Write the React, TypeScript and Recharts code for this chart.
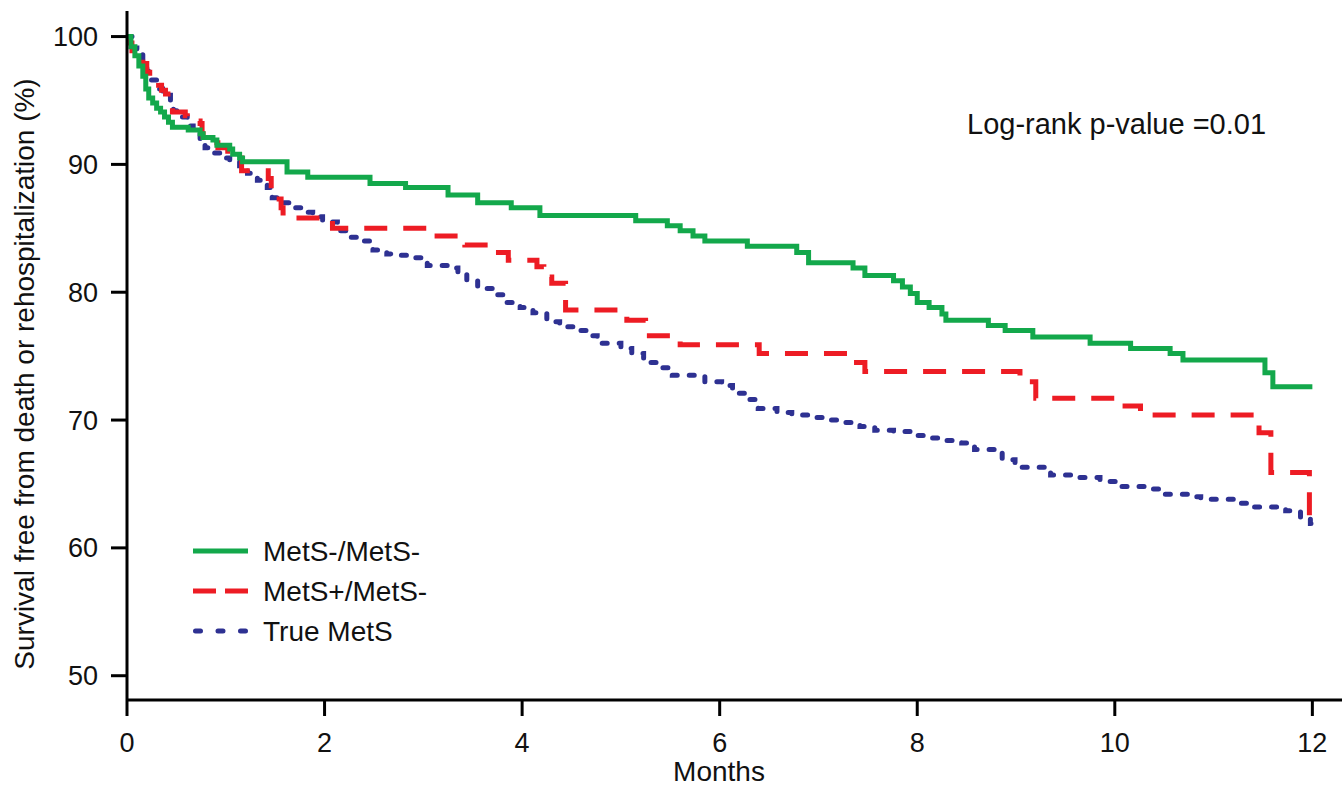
import React from 'react';
import { LineChart, Line, XAxis, YAxis, Legend } from 'recharts';

const FONT = '"Liberation Sans", Arial, Helvetica, sans-serif';

const monthTicks = [0, 2, 4, 6, 8, 10, 12];
const survTicks = [50, 60, 70, 80, 90, 100];

// MetS-/MetS- (step starts: month, survival %)
const negTime = [0, 0.04, 0.08, 0.12, 0.16, 0.19, 0.22, 0.26, 0.3, 0.34, 0.38, 0.42, 0.46, 0.62, 0.74, 0.77, 0.87, 0.91, 1.04, 1.07, 1.14, 1.17, 1.62, 1.83, 2.46, 2.82, 3.25, 3.55, 3.89, 4.18, 5.15, 5.47, 5.6, 5.73, 5.85, 6.28, 6.78, 6.9, 7.35, 7.47, 7.76, 7.85, 7.93, 8.0, 8.12, 8.25, 8.29, 8.72, 8.89, 9.17, 9.75, 10.16, 10.56, 10.69, 11.52, 11.6, 12];
const negSurv = [100, 99.2, 98.5, 97.7, 96.9, 95.9, 95.2, 94.8, 94.4, 94.1, 93.7, 93.3, 92.9, 92.7, 92.4, 92.1, 91.9, 91.5, 91.2, 90.8, 90.5, 90.2, 89.4, 89.0, 88.5, 88.2, 87.6, 87.0, 86.6, 86.0, 85.6, 85.2, 84.8, 84.4, 84.0, 83.6, 83.1, 82.3, 81.9, 81.3, 80.9, 80.4, 79.9, 79.2, 78.8, 78.3, 77.8, 77.4, 77.0, 76.5, 76.0, 75.6, 75.2, 74.7, 73.7, 72.6, 72.6];

// MetS+/MetS-
const posTime = [0, 0.01, 0.05, 0.13, 0.16, 0.2, 0.23, 0.32, 0.35, 0.39, 0.46, 0.59, 0.61, 0.74, 0.76, 0.77, 0.91, 0.92, 1.02, 1.16, 1.43, 1.46, 1.48, 1.56, 1.58, 1.62, 2.08, 3.1, 3.42, 3.73, 3.86, 4.15, 4.22, 4.3, 4.44, 5.06, 5.25, 5.6, 6.4, 7.3, 7.47, 9.04, 9.2, 10.0, 10.26, 11.46, 11.58, 11.97, 12];
const posSurv = [100, 99.5, 98.9, 98.4, 97.9, 97.2, 96.6, 96.2, 95.8, 95.5, 94.1, 93.8, 93.4, 93.2, 92.4, 91.9, 91.7, 91.3, 90.5, 89.5, 88.9, 88.0, 87.3, 86.6, 86.2, 85.8, 85.0, 84.4, 83.7, 83.1, 82.5, 82.0, 81.2, 80.7, 78.6, 77.8, 76.6, 75.9, 75.2, 74.5, 73.8, 73.0, 71.7, 71.1, 70.4, 69.0, 65.9, 62.0, 62.0];

// True MetS
const trueTime = [0, 0.06, 0.1, 0.16, 0.2, 0.23, 0.3, 0.36, 0.44, 0.47, 0.54, 0.61, 0.67, 0.74, 0.79, 0.87, 0.94, 1.04, 1.14, 1.22, 1.32, 1.42, 1.47, 1.58, 1.68, 1.78, 1.88, 1.98, 2.13, 2.26, 2.39, 2.49, 2.63, 2.76, 2.9, 3.04, 3.32, 3.35, 3.44, 3.55, 3.7, 3.83, 3.98, 4.11, 4.25, 4.38, 4.54, 4.69, 4.76, 5.0, 5.11, 5.23, 5.38, 5.52, 5.85, 6.02, 6.13, 6.28, 6.39, 6.58, 6.73, 6.9, 7.07, 7.25, 7.42, 7.57, 7.76, 7.93, 8.1, 8.28, 8.45, 8.58, 8.84, 8.86, 8.99, 9.3, 9.35, 9.6, 9.85, 10.06, 10.36, 10.51, 10.76, 10.87, 11.27, 11.37, 11.73, 11.88, 11.98, 12];
const trueSurv = [100, 99.1, 98.9, 98.0, 97.3, 96.6, 95.9, 95.4, 95.0, 94.2, 93.7, 93.0, 92.5, 92.0, 91.3, 90.9, 90.5, 90.2, 89.9, 89.3, 88.75, 88.2, 87.4, 87.0, 86.6, 86.25, 85.9, 85.5, 84.8, 84.3, 84.0, 83.3, 83.0, 82.9, 82.7, 82.1, 81.9, 81.6, 80.9, 80.3, 79.8, 79.2, 78.8, 78.4, 77.7, 77.3, 77.0, 76.6, 76.0, 75.6, 75.2, 74.5, 74.1, 73.5, 73.0, 72.7, 72.1, 71.6, 70.9, 70.6, 70.4, 70.2, 70.0, 69.8, 69.5, 69.2, 69.1, 68.8, 68.6, 68.4, 68.2, 67.7, 67.4, 66.9, 66.3, 66.1, 65.7, 65.5, 65.2, 64.8, 64.6, 64.2, 64.0, 63.8, 63.5, 63.2, 62.9, 62.3, 61.9, 61.9];

const toSteps = (t: number[], s: number[]) => t.map((m, i) => ({ month: m, surv: s[i] }));

const series = [
  { key: 'true', name: 'True MetS', color: '#2e3192', dash: '5 12', legendDash: '5 17.5', cap: 'round', data: toSteps(trueTime, trueSurv) },
  { key: 'pos', name: 'MetS+/MetS-', color: '#ed1c24', dash: '23 16', legendDash: '23 9', cap: 'butt', data: toSteps(posTime, posSurv) },
  { key: 'neg', name: 'MetS-/MetS-', color: '#13a84b', dash: undefined, legendDash: undefined, cap: 'butt', data: toSteps(negTime, negSurv) },
];

const legendOrder = ['neg', 'pos', 'true'];

function KmLegend() {
  return (
    <svg width={320} height={125}>
      {legendOrder.map((k, i) => {
        const s = series.find((d) => d.key === k)!;
        const round = s.cap === 'round';
        return (
          <g key={k} transform={`translate(0, ${18 + i * 40})`}>
            <line x1={round ? 10.5 : 8} x2={63} y1={0} y2={0} stroke={s.color} strokeWidth={5}
              strokeDasharray={s.legendDash} strokeLinecap={s.cap as any} />
            <text x={78} y={10} fontSize={28} fontFamily={FONT} fill="#111">{s.name}</text>
          </g>
        );
      })}
    </svg>
  );
}

const yLabel = () => (
  <text x={34} y={374} transform="rotate(-90 34 374)" textAnchor="middle" fontSize={28} fontFamily={FONT} fill="#111">
    Survival free from death or rehospitalization (%)
  </text>
);

const xLabel = () => (
  <text x={719} y={781} textAnchor="middle" fontSize={28} fontFamily={FONT} fill="#111">Months</text>
);

export default function App() {
  const axisStyle = { stroke: '#000', strokeWidth: 3 };
  const tickStyle = { fontSize: 27, fontFamily: FONT, fill: '#111' };
  return (
    <div style={{ position: 'absolute', left: 0, top: 0, width: 1342, height: 789, background: '#fff' }}>
      <LineChart width={1342} height={789} margin={{ top: 11, right: 0, bottom: 0, left: 0 }}>
        <XAxis
          dataKey="month"
          type="number"
          domain={[0, 12.3]}
          ticks={monthTicks}
          allowDataOverflow
          height={89}
          tickSize={16}
          tickMargin={17}
          axisLine={axisStyle}
          tickLine={axisStyle}
          tick={tickStyle}
          label={xLabel}
        />
        <XAxis
          xAxisId="top"
          orientation="top"
          dataKey="month"
          type="number"
          domain={[0, 12.3]}
          height={0}
          tick={false}
          tickLine={false}
          axisLine={axisStyle}
        />
        <YAxis
          type="number"
          domain={[48.1, 102]}
          ticks={survTicks}
          allowDataOverflow
          width={127}
          tickSize={16}
          tickMargin={13}
          axisLine={axisStyle}
          tickLine={axisStyle}
          tick={tickStyle}
          label={yLabel}
        />
        {series.map((s) => (
          <Line
            key={s.key}
            data={s.data}
            dataKey="surv"
            name={s.name}
            type="stepAfter"
            stroke={s.color}
            strokeWidth={5}
            strokeDasharray={s.dash}
            strokeLinecap={s.cap as any}
            dot={false}
            activeDot={false}
            isAnimationActive={false}
          />
        ))}
        <Legend
          layout="vertical"
          align="center"
          verticalAlign="middle"
          content={() => <KmLegend />}
          wrapperStyle={{ left: 185, top: 533, width: 320 }}
        />
      </LineChart>
      <div style={{ position: 'absolute', left: 967, top: 110, fontSize: 29, lineHeight: '29px', fontFamily: FONT, color: '#111', whiteSpace: 'nowrap' }}>
        Log-rank p-value =0.01
      </div>
    </div>
  );
}
